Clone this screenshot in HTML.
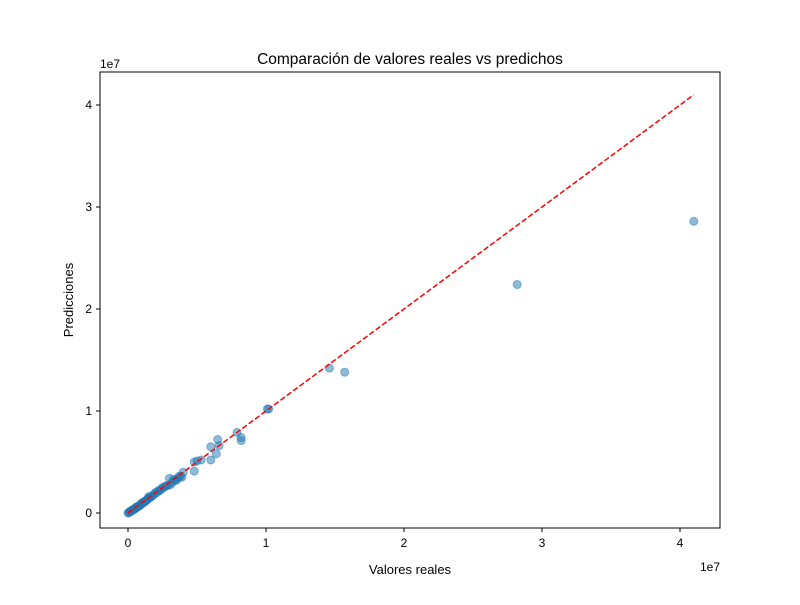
<!DOCTYPE html>
<html><head><meta charset="utf-8"><style>body{margin:0;background:#fff}svg{font-family:"Liberation Sans","DejaVu Sans",sans-serif}</style></head>
<body>
<svg id="chart" width="800" height="600" xmlns="http://www.w3.org/2000/svg">
<rect width="800" height="600" fill="#fff"/>
<text x="410" y="64" font-size="15.5" text-anchor="middle">Comparación de valores reales vs predichos</text>
<g id="plot"></g>
<rect x="100" y="72" width="620" height="456" fill="none" stroke="#000" stroke-width="1"/>
<text x="410" y="574" font-size="13" text-anchor="middle">Valores reales</text>
<text transform="translate(73,300) rotate(-90)" font-size="13" text-anchor="middle">Predicciones</text>
<text x="720" y="571" font-size="12" text-anchor="end">1e7</text>
<text x="100" y="68" font-size="12">1e7</text>
</svg>
<script>
const realValues=[4.1,2.82,1.46,1.57,1.01,1.02,0.79,0.82,0.82,0.65,0.66,0.64,0.6,0.6,0.53,0.5,0.48,0.48,0.4,0.39,0.37,0.33,0.31,0.3,0.28,0.25,0.22,0.2,0.18,0.15,0.13,0.1,0.08,0.06,0.05,0.03,0.02,0.01,0,0.04,0.07,0.09,0.12,0.16,0.24,0.27,0.35,
0.005,0.015,0.025,0.035,0.045,0.055,0.065,0.075,0.085,0.095,0.105,0.115,0.125,0.135,0.145,0.155,0.17,0.19,0.21,0.23,0.26,0.29,0.32,0.34,0.36,0.38,0.06,0.09,0.11,0.14];
const predValues=[2.86,2.24,1.42,1.38,1.02,1.02,0.79,0.74,0.71,0.72,0.66,0.58,0.52,0.65,0.52,0.51,0.5,0.41,0.4,0.35,0.36,0.33,0.28,0.34,0.27,0.25,0.22,0.2,0.17,0.16,0.12,0.1,0.07,0.06,0.04,0.03,0.02,0.01,0,0.035,0.06,0.08,0.11,0.15,0.23,0.26,0.32,
0.003,0.01,0.018,0.028,0.038,0.048,0.057,0.066,0.075,0.085,0.096,0.107,0.118,0.128,0.14,0.15,0.165,0.185,0.2,0.22,0.25,0.27,0.3,0.32,0.34,0.36,0.05,0.08,0.1,0.13];
const xTicks=[0,1,2,3,4];
const yTicks=[0,1,2,3,4];
const lineRange=[0,4.1];
const xs=v=>128+v*138, ys=v=>513-v*102;
const g=document.getElementById('plot'),NS='http://www.w3.org/2000/svg';
function mk(t,a){const e=document.createElementNS(NS,t);for(const k in a)e.setAttribute(k,a[k]);g.appendChild(e);return e;}
xTicks.forEach(t=>{const x=xs(t);
const l=mk('line',{x1:x,x2:x,y1:528,y2:532,stroke:'#000'});


const tx=mk('text',{x:x,y:547,'font-size':12,'text-anchor':'middle'});tx.textContent=t;

});
yTicks.forEach(t=>{const y=ys(t);
const l=mk('line',{x1:96,x2:100,y1:y,y2:y,stroke:'#000'});


const tx=mk('text',{x:92,y:y+4,'font-size':12,'text-anchor':'end'});tx.textContent=t;

});
realValues.forEach((v,i)=>{const c=mk('circle',{cx:xs(v),cy:ys(predValues[i]),r:4,fill:'#1f77b4','fill-opacity':0.5,stroke:'#1f77b4','stroke-opacity':0.5});

});
const ln=mk('line',{x1:xs(lineRange[0]),y1:ys(lineRange[0]),x2:xs(lineRange[1]),y2:ys(lineRange[1]),stroke:'red','stroke-width':1.5,'stroke-dasharray':'5.5,2.4'});


</script>
</body></html>
